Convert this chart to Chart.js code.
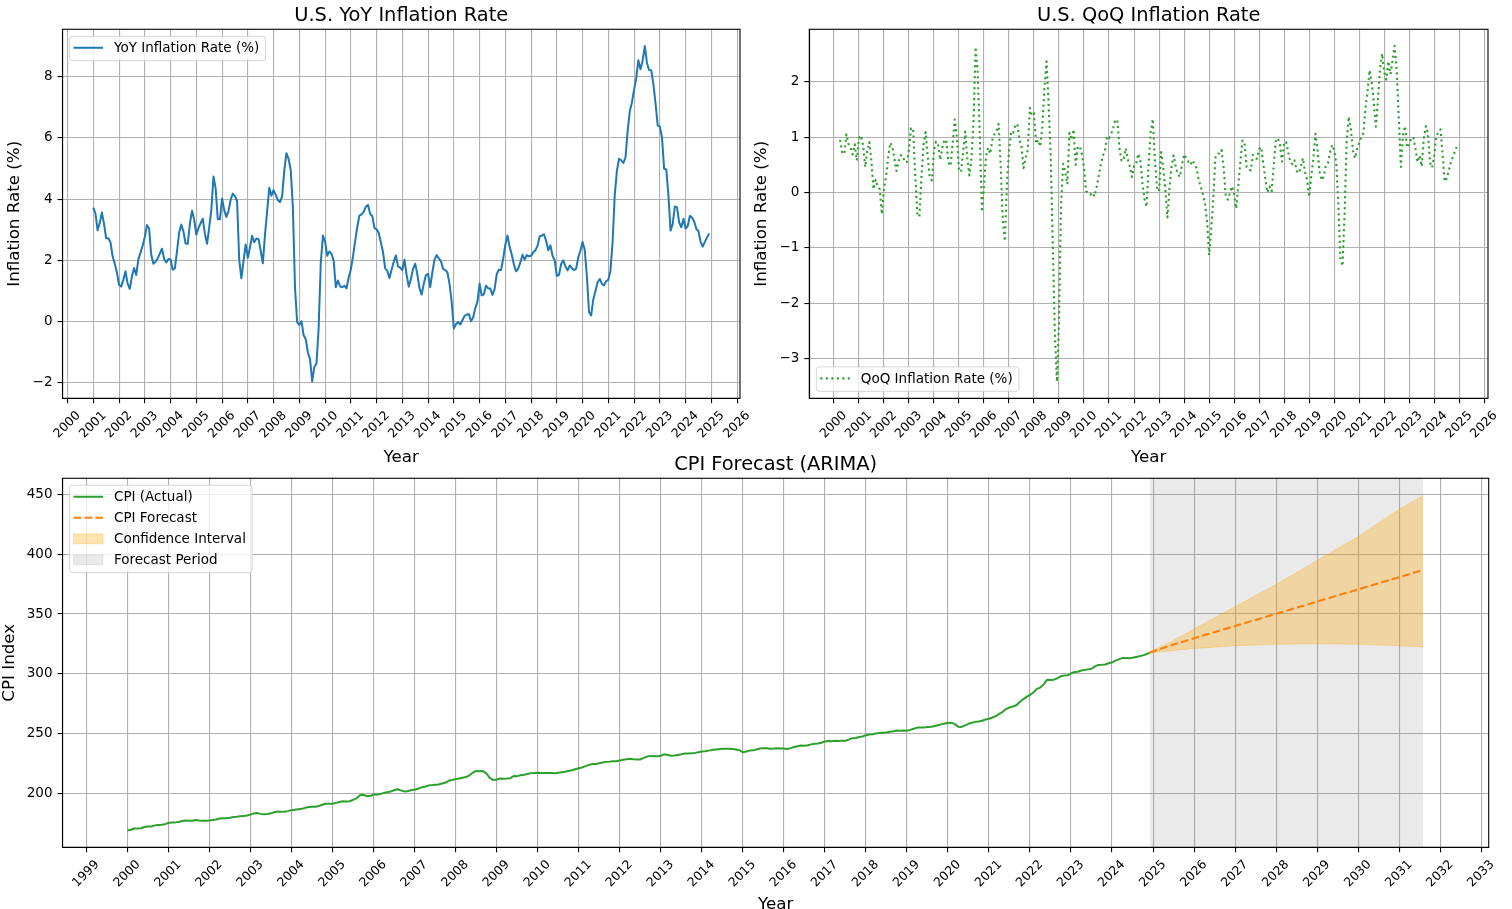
<!DOCTYPE html>
<html>
<head>
<meta charset="utf-8">
<title>U.S. Inflation and CPI Forecast</title>
<script src="https://cdn.jsdelivr.net/npm/chart.js@4.4.1/dist/chart.umd.min.js"></script>
<style>
    html, body { margin: 0; padding: 0; background: #fff; width: 1512px; height: 909px; overflow: hidden; }
    canvas { position: absolute; }
</style>
</head>
<body>
<canvas id="yoy" width="756" height="470" style="left:0;top:0"></canvas>
<canvas id="qoq" width="767" height="470" style="left:745px;top:0"></canvas>
<canvas id="cpi" width="1512" height="490" style="left:0;top:440px"></canvas>
<script>
// ---- data (monthly) ----
const CPI_START = 2000; // Jan 2000
const CPI_VALUES = [
    169.3, 170.0, 171.0, 170.9, 171.2, 172.2, 172.7, 172.7, 173.6, 173.9, 174.2, 174.6,
    175.6, 176.0, 176.1, 176.4, 177.3, 177.7, 177.4, 177.4, 178.1, 177.6, 177.5, 177.4,
    177.7, 178.0, 178.5, 179.3, 179.5, 179.6, 180.0, 180.5, 180.8, 181.2, 181.5, 181.8,
    182.6, 183.6, 183.9, 183.2, 182.9, 183.1, 183.7, 184.5, 185.1, 184.9, 185.0, 185.5,
    186.3, 186.7, 187.1, 187.4, 188.2, 188.9, 189.1, 189.2, 189.8, 190.8, 191.7, 191.7,
    191.6, 192.4, 193.1, 193.7, 193.6, 193.7, 194.9, 196.1, 198.8, 199.1, 198.1, 198.1,
    199.3, 199.4, 199.7, 200.7, 201.3, 201.8, 202.9, 203.8, 202.8, 201.9, 202.0, 203.1,
    203.4, 204.2, 205.3, 205.9, 206.8, 207.2, 207.6, 207.7, 208.5, 209.2, 210.8, 211.4,
    212.2, 212.7, 213.4, 213.9, 215.2, 217.5, 219.0, 218.7, 218.9, 217.0, 213.2, 211.4,
    211.9, 212.7, 212.5, 212.7, 213.0, 214.8, 214.7, 215.4, 215.9, 216.5, 217.2, 217.3,
    217.5, 217.3, 217.4, 217.4, 217.3, 217.2, 217.6, 217.9, 218.3, 219.0, 219.6, 220.5,
    221.2, 221.9, 223.0, 224.1, 224.8, 224.8, 225.4, 226.1, 226.6, 226.8, 227.2, 227.2,
    227.8, 228.3, 228.8, 229.2, 228.7, 228.5, 228.6, 229.9, 231.0, 231.6, 231.2, 231.2,
    231.7, 232.9, 232.3, 231.8, 231.9, 232.4, 232.9, 233.5, 233.5, 233.7, 234.1, 234.7,
    235.3, 235.5, 236.0, 236.5, 236.9, 237.2, 237.5, 237.5, 237.5, 237.4, 237.0, 236.3,
    234.7, 235.3, 236.0, 236.2, 237.0, 237.7, 238.0, 238.0, 237.5, 237.7, 238.0, 237.8,
    237.7, 237.3, 238.1, 239.0, 239.6, 240.2, 240.1, 240.5, 241.2, 241.7, 242.0, 242.6,
    243.6, 244.0, 243.9, 244.2, 244.0, 244.2, 244.2, 245.2, 246.4, 246.6, 247.3, 247.8,
    248.9, 249.5, 249.6, 250.2, 250.8, 251.0, 251.2, 251.7, 252.2, 252.8, 252.6, 252.8,
    252.6, 253.3, 254.3, 255.2, 255.3, 255.2, 255.8, 256.0, 256.4, 257.2, 257.9, 258.6,
    259.1, 259.3, 258.1, 256.0, 255.8, 257.0, 258.4, 259.3, 260.0, 260.3, 260.9, 262.0,
    262.6, 263.6, 264.8, 266.6, 268.4, 270.7, 272.0, 272.8, 273.9, 276.5, 278.8, 280.8,
    282.5, 284.5, 287.5, 288.6, 291.3, 295.1, 294.9, 295.2, 296.4, 298.0, 298.7, 298.8,
    300.5, 301.6, 301.8, 302.9, 303.3, 303.8, 304.3, 306.3, 307.5, 307.6, 307.9, 308.9,
    309.7, 311.1, 312.2, 313.2, 313.2, 313.0, 313.5, 314.1, 314.7, 315.5, 316.4, 317.6
];

const YOY_START = 2001; // Jan 2001
const YOY_VALUES = [
    3.72, 3.53, 2.98, 3.22, 3.56, 3.19, 2.72, 2.72, 2.59, 2.13, 1.89, 1.60,
    1.20, 1.14, 1.36, 1.64, 1.24, 1.07, 1.47, 1.75, 1.52, 2.03, 2.25, 2.48,
    2.76, 3.15, 3.03, 2.18, 1.89, 1.95, 2.06, 2.22, 2.38, 2.04, 1.93, 2.04,
    2.03, 1.69, 1.74, 2.29, 2.90, 3.17, 2.94, 2.55, 2.54, 3.19, 3.62, 3.34,
    2.84, 3.05, 3.21, 3.36, 2.87, 2.54, 3.07, 3.65, 4.74, 4.35, 3.34, 3.34,
    4.02, 3.64, 3.42, 3.61, 3.98, 4.18, 4.10, 3.93, 2.01, 1.41, 1.97, 2.52,
    2.08, 2.42, 2.80, 2.59, 2.71, 2.69, 2.32, 1.90, 2.83, 3.61, 4.37, 4.11,
    4.29, 4.14, 3.97, 3.90, 4.09, 4.94, 5.50, 5.31, 4.95, 3.73, 1.10, -0.02,
    -0.11, 0.01, -0.45, -0.58, -1.02, -1.23, -1.96, -1.48, -1.38, -0.22, 1.91, 2.81,
    2.62, 2.15, 2.29, 2.21, 2.00, 1.12, 1.34, 1.15, 1.12, 1.17, 1.08, 1.44,
    1.70, 2.12, 2.62, 3.08, 3.46, 3.50, 3.58, 3.75, 3.81, 3.52, 3.45, 3.06,
    3.01, 2.90, 2.58, 2.27, 1.74, 1.65, 1.42, 1.69, 1.95, 2.16, 1.80, 1.76,
    1.68, 2.02, 1.52, 1.14, 1.39, 1.72, 1.89, 1.54, 1.09, 0.88, 1.23, 1.51,
    1.56, 1.12, 1.61, 2.02, 2.17, 2.06, 1.97, 1.72, 1.68, 1.61, 1.23, 0.65,
    -0.23, -0.09, -0.02, -0.10, 0.04, 0.18, 0.23, 0.24, 0.01, 0.13, 0.44, 0.64,
    1.24, 0.85, 0.89, 1.17, 1.08, 1.08, 0.87, 1.06, 1.55, 1.69, 1.68, 2.05,
    2.51, 2.81, 2.44, 2.18, 1.86, 1.64, 1.73, 1.93, 2.18, 2.02, 2.17, 2.13,
    2.15, 2.26, 2.33, 2.47, 2.78, 2.81, 2.85, 2.64, 2.33, 2.49, 2.15, 2.00,
    1.49, 1.52, 1.88, 2.00, 1.80, 1.67, 1.83, 1.74, 1.68, 1.73, 2.09, 2.32,
    2.60, 2.34, 1.49, 0.31, 0.20, 0.72, 1.00, 1.28, 1.39, 1.23, 1.18, 1.32,
    1.36, 1.67, 2.62, 4.14, 4.93, 5.32, 5.27, 5.18, 5.36, 6.23, 6.87, 7.16,
    7.58, 7.95, 8.54, 8.24, 8.53, 9.00, 8.45, 8.22, 8.21, 7.76, 7.13, 6.41,
    6.37, 6.02, 4.99, 4.97, 4.12, 2.97, 3.19, 3.76, 3.73, 3.24, 3.08, 3.36,
    3.04, 3.12, 3.45, 3.40, 3.27, 3.03, 2.95, 2.60, 2.45, 2.60, 2.75, 2.88
];

const QOQ_START = 2000.25; // Apr 2000
const QOQ_VALUES = [
    0.95, 0.71, 0.70, 1.05, 0.88, 0.81, 0.69, 0.87, 0.58,
    0.98, 1.03, 0.86, 0.46, 0.74, 0.91, 0.57, 0.06, 0.23, 0.11, 0.06, -0.39,
    0.06, 0.28, 0.62, 0.90, 0.84, 0.62, 0.39, 0.56, 0.67, 0.67, 0.55, 0.55,
    0.77, 1.16, 1.16, 0.33, -0.38, -0.44, 0.27, 0.87, 1.09, 0.65, 0.27, 0.22,
    0.76, 0.92, 0.86, 0.59, 0.80, 0.96, 0.91, 0.53, 0.48, 0.90, 1.32, 1.00,
    0.42, 0.37, 0.73, 1.10, 0.62, 0.31, 0.62, 1.29, 2.63, 2.15, 1.02, -0.35,
    0.10, 0.66, 0.81, 0.70, 0.95, 1.05, 1.10, 1.24, 0.50, -0.49, -0.88, 0.15,
    0.76, 1.10, 1.08, 1.21, 1.24, 0.95, 0.83, 0.44, 0.63, 0.76, 1.53, 1.39,
    1.43, 0.88, 0.95, 0.83, 1.19, 1.88, 2.37, 1.62, 0.65, -0.92, -2.53, -3.42,
    -2.33, -0.21, 0.52, 0.37, 0.15, 1.08, 0.95, 1.14, 0.50, 0.83, 0.83, 0.69,
    0.45, 0.02, 0.00, -0.04, 0.00, -0.07, 0.09, 0.29, 0.50, 0.66, 0.76, 1.01,
    0.98, 1.05, 1.17, 1.31, 1.31, 0.79, 0.58, 0.58, 0.80, 0.60, 0.47, 0.28,
    0.48, 0.51, 0.70, 0.59, 0.17, -0.12, -0.26, 0.53, 1.09, 1.33, 0.58, 0.09,
    0.02, 0.73, 0.46, 0.05, -0.45, 0.07, 0.48, 0.67, 0.47, 0.33, 0.28, 0.50,
    0.69, 0.62, 0.56, 0.50, 0.58, 0.51, 0.44, 0.23, 0.10, -0.03, -0.20, -0.52,
    -1.13, -0.69, -0.12, 0.63, 0.70, 0.71, 0.77, 0.44, -0.07, -0.13, -0.01, 0.11,
    -0.03, -0.29, 0.13, 0.56, 0.94, 0.90, 0.46, 0.41, 0.40, 0.68, 0.62, 0.61,
    0.78, 0.82, 0.52, 0.24, 0.00, 0.11, 0.02, 0.48, 0.93, 0.98, 0.86, 0.56,
    0.91, 0.91, 0.72, 0.55, 0.51, 0.58, 0.39, 0.35, 0.46, 0.62, 0.37, 0.23,
    -0.08, 0.29, 0.60, 1.06, 0.78, 0.37, 0.22, 0.29, 0.48, 0.53, 0.72, 0.86,
    0.77, 0.53, -0.21, -1.19, -1.33, -0.40, 0.91, 1.37, 1.15, 0.76, 0.62, 0.79,
    0.89, 1.02, 1.07, 1.52, 1.83, 2.21, 2.00, 1.62, 1.19, 1.68, 2.23, 2.51,
    2.17, 2.04, 2.37, 2.14, 2.38, 2.65, 2.20, 1.33, 0.46, 1.03, 1.20, 0.81,
    0.86, 0.98, 1.00, 0.79, 0.55, 0.67, 0.47, 0.98, 1.20, 1.07, 0.54, 0.45,
    0.67, 1.02, 1.09, 1.14, 0.70, 0.20, 0.25, 0.40, 0.55, 0.65, 0.75, 0.85
];

// ARIMA forecast (decimal years)
const FC_YEARS = [2024.917, 2025.5, 2026, 2027, 2028, 2029, 2030, 2031, 2031.583];
const FC_MEAN  = [317.9, 324.6, 329.8, 340.0, 350.2, 360.4, 370.6, 380.8, 386.9];
const FC_UPPER = [318.2, 328.0, 337.5, 356.2, 374.6, 394.7, 414.7, 437.5, 448.8];
const FC_LOWER = [317.6, 319.6, 321.3, 323.6, 324.7, 325.2, 324.8, 323.6, 322.5];

// tick labels
const YEAR_TICKS_TOP = [2000, 2001, 2002, 2003, 2004, 2005, 2006, 2007, 2008, 2009, 2010, 2011, 2012, 2013,
    2014, 2015, 2016, 2017, 2018, 2019, 2020, 2021, 2022, 2023, 2024, 2025, 2026];
const YEAR_TICKS_CPI = [1999, 2000, 2001, 2002, 2003, 2004, 2005, 2006, 2007, 2008, 2009, 2010, 2011, 2012,
    2013, 2014, 2015, 2016, 2017, 2018, 2019, 2020, 2021, 2022, 2023, 2024, 2025, 2026, 2027, 2028,
    2029, 2030, 2031, 2032, 2033];
const YOY_Y_TICKS = [-2, 0, 2, 4, 6, 8];
const QOQ_Y_TICKS = [-3, -2, -1, 0, 1, 2];
const CPI_Y_TICKS = [200, 250, 300, 350, 400, 450];

const YOY_RANGE = { xmin: 1999.804, xmax: 2026.113, ymin: -2.51, ymax: 9.55 };
const QOQ_RANGE = { xmin: 1999.017, xmax: 2026.15, ymin: -3.72, ymax: 2.95 };
const CPI_RANGE = { xmin: 1998.42, xmax: 2033.18, ymin: 155.3, ymax: 463.3 };

// ---- helpers ----
const monthly = (start, values) => values.map((v, i) => ({ x: start + i / 12, y: v }));
const paired = (xs, ys) => xs.map((x, i) => ({ x: x, y: ys[i] }));
const minusFmt = (v) => (v < 0 ? "\u2212" + Math.abs(v) : String(v));

Chart.defaults.font.family = '"DejaVu Sans", sans-serif';
Chart.defaults.color = "#000000";

// matplotlib-like spines on all four sides
const framePlugin = {
    id: "frame",
    afterDatasetsDraw(chart) {
        const a = chart.chartArea;
        const ctx = chart.ctx;
        ctx.save();
        ctx.strokeStyle = "#000";
        ctx.lineWidth = 1.1;
        ctx.strokeRect(a.left, a.top, a.right - a.left, a.bottom - a.top);
        ctx.restore();
    },
};

// boxed legend inside the axes, built from the datasets
const boxLegend = {
    id: "boxLegend",
    afterDraw(chart, args, opts) {
        const items = chart.data.datasets.filter((d) => d.legendKind);
        if (!items.length) return;
        const ctx = chart.ctx;
        const a = chart.chartArea;
        ctx.save();
        ctx.font = '13.5px "DejaVu Sans"';
        const tw = Math.max(...items.map((d) => ctx.measureText(d.label).width));
        const w = 44.5 + tw + 6.2;
        const h = 24.4 + (items.length - 1) * 21;
        const x = a.left + 7;
        const y = opts.corner === "bl" ? a.bottom - 7 - h : a.top + 7;

        ctx.beginPath();
        if (ctx.roundRect) ctx.roundRect(x, y, w, h, 3);
        else ctx.rect(x, y, w, h);
        ctx.fillStyle = "rgba(255,255,255,0.8)";
        ctx.fill();
        ctx.strokeStyle = "rgba(204,204,204,0.8)";
        ctx.lineWidth = 1;
        ctx.stroke();

        items.forEach((d, i) => {
            const cy = y + 11.5 + i * 21;
            if (d.legendKind === "line") {
                ctx.beginPath();
                ctx.setLineDash(d.borderDash || []);
                ctx.strokeStyle = d.borderColor;
                ctx.lineWidth = d.borderWidth;
                ctx.moveTo(x + 4, cy);
                ctx.lineTo(x + 33.5, cy);
                ctx.stroke();
                ctx.setLineDash([]);
            } else {
                ctx.fillStyle = d.backgroundColor;
                ctx.fillRect(x + 4, cy - 4.9, 29.5, 9.8);
                ctx.strokeStyle = d.backgroundColor;
                ctx.lineWidth = 1;
                ctx.strokeRect(x + 4, cy - 4.9, 29.5, 9.8);
            }
            ctx.fillStyle = "#000";
            ctx.textAlign = "left";
            ctx.textBaseline = "middle";
            ctx.fillText(d.label, x + 44.5, cy + 1);
        });
        ctx.restore();
    },
};

function xAxis(range, ticks, height, titlePadBottom) {
    return {
        type: "linear",
        min: range.xmin,
        max: range.xmax,
        afterBuildTicks: (s) => { s.ticks = ticks.map((v) => ({ value: v })); },
        afterFit: (s) => { s.height = height; },
        ticks: {
            autoSkip: false,
            maxRotation: 45,
            minRotation: 45,
            padding: 5,
            labelOffset: 11,
            font: { size: 12.5 },
            callback: (v) => String(v),
        },
        grid: { color: "#b0b0b0", lineWidth: 1.1, tickColor: "#000", tickWidth: 1.1, tickLength: 5 },
        border: { color: "#000", width: 1.1 },
        title: { display: true, text: "Year", font: { size: 16.7 }, padding: { top: 0, bottom: titlePadBottom } },
    };
}

function yAxis(range, ticks, label, width, titlePadTop, lineHeight) {
    return {
        type: "linear",
        min: range.ymin,
        max: range.ymax,
        afterBuildTicks: (s) => { s.ticks = ticks.map((v) => ({ value: v })); },
        afterFit: (s) => { s.width = width; },
        ticks: { padding: 5, font: { size: 13.5 }, callback: minusFmt },
        grid: { color: "#b0b0b0", lineWidth: 1.1, tickColor: "#000", tickWidth: 1.1, tickLength: 5 },
        border: { color: "#000", width: 1.1 },
        title: {
            display: true,
            text: label,
            font: { size: 16.7, lineHeight: lineHeight },
            padding: { top: titlePadTop, bottom: 0 },
        },
    };
}

function titleOpts(text, padTop, padBottom) {
    return {
        display: true,
        text: text,
        fullSize: false,
        font: { size: 19.4, weight: "normal" },
        color: "#000",
        padding: { top: padTop, bottom: padBottom },
    };
}

const baseOptions = {
    responsive: false,
    animation: false,
    events: [],
    elements: {
        point: { radius: 0 },
        line: { tension: 0, borderJoinStyle: "round" },
    },
};

// ---- YoY ----
new Chart(document.getElementById("yoy"), {
    type: "line",
    data: {
        datasets: [
            {
                label: "YoY Inflation Rate (%)",
                legendKind: "line",
                data: monthly(YOY_START, YOY_VALUES),
                borderColor: "#1f77b4",
                borderWidth: 2,
                fill: false,
            },
        ],
    },
    options: {
        ...baseOptions,
        layout: { padding: { left: 0, right: 16, top: 0, bottom: 0 } },
        scales: {
            x: xAxis(YOY_RANGE, YEAR_TICKS_TOP, 71.7, 2),
            y: yAxis(YOY_RANGE, YOY_Y_TICKS, "Inflation Rate (%)", 62.5, 5, 1.2),
        },
        plugins: {
            legend: { display: false },
            tooltip: { enabled: false },
            title: titleOpts("U.S. YoY Inflation Rate", 4.5, 1.5),
            boxLegend: { corner: "tl" },
        },
    },
    plugins: [framePlugin, boxLegend],
});

// ---- QoQ ----
new Chart(document.getElementById("qoq"), {
    type: "line",
    data: {
        datasets: [
            {
                label: "QoQ Inflation Rate (%)",
                legendKind: "line",
                data: monthly(QOQ_START, QOQ_VALUES),
                borderColor: "#2ca02c",
                borderWidth: 2.1,
                borderDash: [2.1, 3.4],
                borderCapStyle: "butt",
                fill: false,
            },
        ],
    },
    options: {
        ...baseOptions,
        layout: { padding: { left: 0, right: 24, top: 0, bottom: 0 } },
        scales: {
            x: xAxis(QOQ_RANGE, YEAR_TICKS_TOP, 71.7, 2),
            y: yAxis(QOQ_RANGE, QOQ_Y_TICKS, "Inflation Rate (%)", 64.3, 7, 1.2),
        },
        plugins: {
            legend: { display: false },
            tooltip: { enabled: false },
            title: titleOpts("U.S. QoQ Inflation Rate", 4.5, 1.5),
            boxLegend: { corner: "bl" },
        },
    },
    plugins: [framePlugin, boxLegend],
});

// ---- CPI with forecast ----
const CI_COLOR = "rgba(255,165,0,0.3)";
const SPAN_COLOR = "rgba(128,128,128,0.17)";
const spanData = [
    { x: FC_YEARS[0], y: CPI_RANGE.ymax },
    { x: FC_YEARS[FC_YEARS.length - 1], y: CPI_RANGE.ymax },
];

new Chart(document.getElementById("cpi"), {
    type: "line",
    data: {
        datasets: [
            {
                label: "CPI (Actual)",
                legendKind: "line",
                data: monthly(CPI_START, CPI_VALUES),
                borderColor: "#2ca02c",
                borderWidth: 2,
                fill: false,
                order: 1,
            },
            {
                label: "CPI Forecast",
                legendKind: "line",
                data: paired(FC_YEARS, FC_MEAN),
                borderColor: "#ff7f0e",
                borderWidth: 2.1,
                borderDash: [7.7, 3.3],
                fill: false,
                order: 0,
            },
            {
                label: "Confidence Interval",
                legendKind: "patch",
                data: paired(FC_YEARS, FC_UPPER),
                borderColor: CI_COLOR,
                backgroundColor: CI_COLOR,
                borderWidth: 1,
                fill: "+1",
                order: 2,
            },
            {
                label: "CI lower",
                data: paired(FC_YEARS, FC_LOWER),
                borderColor: CI_COLOR,
                borderWidth: 1,
                fill: false,
                order: 3,
            },
            {
                label: "Forecast Period",
                legendKind: "patch",
                data: spanData,
                borderColor: "transparent",
                backgroundColor: SPAN_COLOR,
                borderWidth: 1,
                fill: "start",
                order: 4,
            },
        ],
    },
    options: {
        ...baseOptions,
        layout: { padding: { left: 0, right: 23.3, top: 0, bottom: 0 } },
        scales: {
            x: xAxis(CPI_RANGE, YEAR_TICKS_CPI, 82.7, 15),
            y: yAxis(CPI_RANGE, CPI_Y_TICKS, "CPI Index", 62.5, 0, 1.1),
        },
        plugins: {
            legend: { display: false },
            tooltip: { enabled: false },
            title: titleOpts("CPI Forecast (ARIMA)", 13.5, 1.5),
            boxLegend: { corner: "tl" },
        },
    },
    plugins: [framePlugin, boxLegend],
});
</script>
</body>
</html>
